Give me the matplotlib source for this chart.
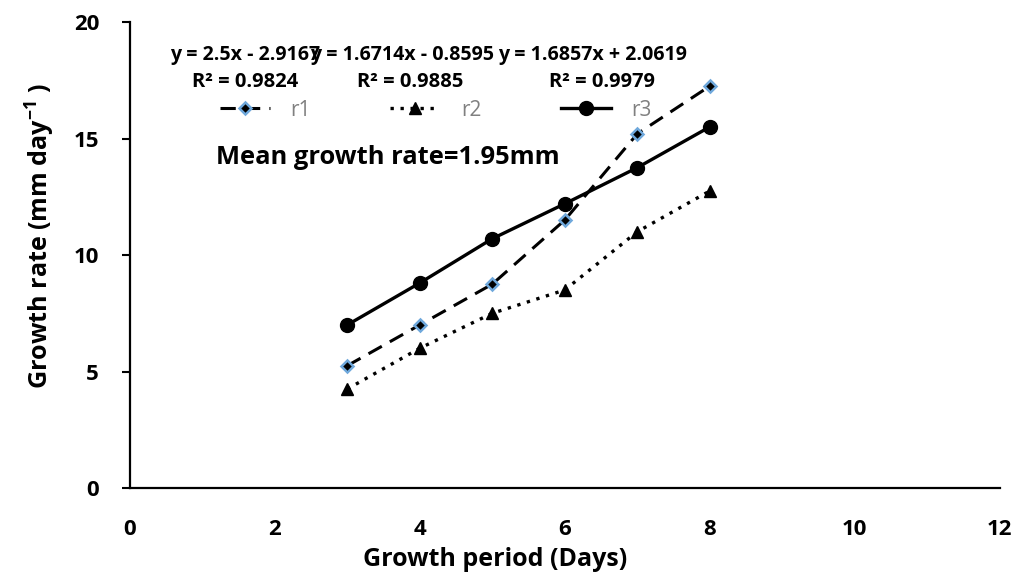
import numpy as np
import matplotlib.pyplot as plt
from matplotlib.transforms import IdentityTransform

# ── Data ───────────────────────────────────────────────────────────────────
days = [3, 4, 5, 6, 7, 8]
r1 = [5.25, 7.0, 8.75, 11.5, 15.2, 17.25]
r2 = [4.25, 6.0, 7.5, 8.5, 11.0, 12.75]
r3 = [7.0, 8.8, 10.7, 12.2, 13.75, 15.5]

equations = ["y = 2.5x - 2.9167", "y = 1.6714x - 0.8595", "y = 1.6857x + 2.0619"]
r_squared = ["R² = 0.9824", "R² = 0.9885", "R² = 0.9979"]

x_ticks = [0, 2, 4, 6, 8, 10, 12]
y_ticks = [0, 5, 10, 15, 20]

FONT = "Open Sans"
BLUE = "#6fa8dc"
W, H = 1013, 579

plt.rcParams.update({
    "font.family": [FONT, "DejaVu Sans"],
    "font.weight": "bold",
    "mathtext.fontset": "custom",
    "mathtext.bf": f"{FONT}:bold",
    "mathtext.rm": f"{FONT}:bold",
})

fig = plt.figure(figsize=(W / 100, H / 100), dpi=100)
ax = fig.add_axes([0.128, 0.157, 0.859, 0.805])
renderer = fig.canvas.get_renderer()


def fitted_size(t, target, along="width"):
    """Font size that makes a text's extent match target pixels."""
    bb = t.get_window_extent(renderer)
    cur = bb.width if along == "width" else bb.height
    return t.get_fontsize() * target / cur


def px_row(spans, y, labels):
    """A row of texts centred on the given pixel spans, one shared size."""
    texts = [fig.text((a + b) / 2, H - y, s, transform=IdentityTransform(),
                      ha="center", va="center", fontsize=12, fontweight="bold")
             for (a, b), s in zip(spans, labels)]
    size = np.mean([fitted_size(t, b - a) for t, (a, b) in zip(texts, spans)])
    for t in texts:
        t.set_fontsize(size)
    return texts


ax.plot(days, r1, color="black", linestyle=(0, (5, 3)), linewidth=2.2,
        marker="D", markersize=6.5, markerfacecolor="black",
        markeredgecolor=BLUE, markeredgewidth=1.8, label="r1")
ax.plot(days, r2, color="black", linestyle=(0, (1, 2)), linewidth=2.4,
        marker="^", markersize=9, markerfacecolor="black",
        markeredgecolor="black", label="r2")
ax.plot(days, r3, color="black", linestyle="-", linewidth=2.4,
        marker="o", markersize=10, markerfacecolor="black",
        markeredgecolor="black", label="r3")

ax.set_xlim(0, 12)
ax.set_ylim(0, 20)
ax.set_xticks(x_ticks)
ax.set_yticks(y_ticks)
ax.tick_params(axis="x", length=0, pad=22)
ax.tick_params(axis="y", length=6, width=1.5, direction="out", pad=16)
for lab in ax.get_xticklabels() + ax.get_yticklabels():
    lab.set_fontweight("bold")
    lab.set_fontsize(16)

for side in ("top", "right"):
    ax.spines[side].set_visible(False)
for side in ("left", "bottom"):
    ax.spines[side].set_linewidth(1.6)

# axis titles, sized to the reference's pixel extents
xl = fig.text(495, H - 560, "Growth period (Days)", transform=IdentityTransform(),
              ha="center", va="center", fontsize=16, fontweight="bold")
xl.set_fontsize(fitted_size(xl, 264))
yl = fig.text(40, H - 236, r"Growth rate (mm day$^{\mathbf{-1}}$ )",
              transform=IdentityTransform(), ha="center", va="center",
              rotation=90, fontsize=16, fontweight="bold")
yl.set_fontsize(fitted_size(yl, 307, along="height"))

# ── Trendline labels ───────────────────────────────────────────────────────
px_row([(170, 320), (318, 487), (490, 695)], 55, equations)
px_row([(192, 299), (357, 463), (549, 655)], 82, r_squared)
px_row([(217, 559)], 158, ["Mean growth rate=1.95mm"])

leg = ax.legend(loc="center left",
                bbox_to_anchor=((220 - 130) / 870, (488 - 110) / 466), ncol=3,
                frameon=False, prop={"size": 15, "weight": "normal"},
                handlelength=2.4, columnspacing=3.8, handletextpad=1.0,
                borderpad=0, borderaxespad=0, labelcolor="#808080")

plt.savefig("out.png", dpi=100)
